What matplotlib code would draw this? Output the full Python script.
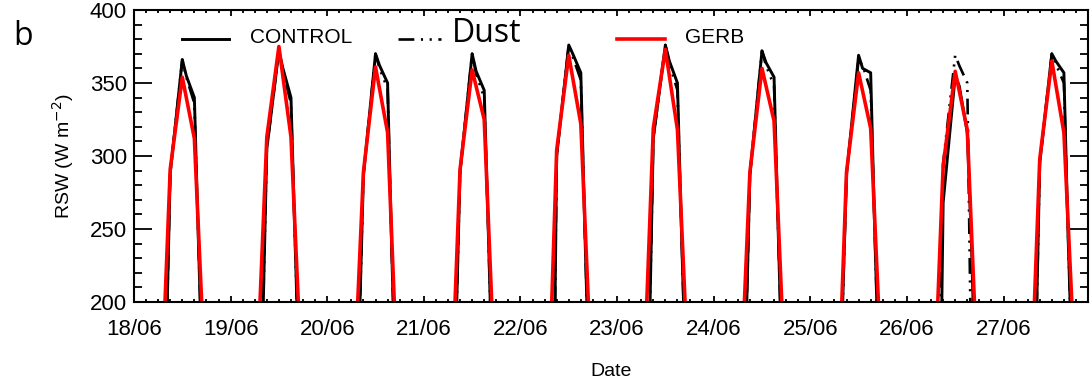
import numpy as np
import matplotlib
matplotlib.use("Agg")
import matplotlib.pyplot as plt
from matplotlib.lines import Line2D
from matplotlib.ticker import MultipleLocator

# dates (tick labels), one per day starting 18/06 00 UTC
dates = ["18/06", "19/06", "20/06", "21/06", "22/06",
         "23/06", "24/06", "25/06", "26/06", "27/06"]

# GERB observations, W m-2, at these UTC hours each day
gerb_hours = [6, 9, 12, 15, 18]
gerb = [
    [80, 291, 354, 312, 127],
    [113, 313, 375, 313, 127],
    [101, 289, 361, 316, 107],
    [72, 291, 359, 325, 124],
    [48, 304, 369, 322, 126],
    [98, 319, 373, 318, 131],
    [94, 289, 360, 324, 130],
    [61, 289, 357, 319, 133],
    [82, 293, 358, 318, 118],
    [75, 298, 365, 316, 139],
]

# model runs, W m-2, at these UTC hours each day
model_hours = [8, 9, 12, 13, 15, 16, 17]
control = [
    [167, 288, 366, 355, 340, 242, 150],
    [185, 305, 372, 360, 340, 243, 150],
    [185, 287, 370, 362, 350, 238, 140],
    [181, 289, 370, 358, 345, 250, 150],
    [50, 300, 376, 370, 357, 249, 150],
    [172, 312, 376, 365, 350, 248, 155],
    [175, 287, 372, 364, 354, 251, 155],
    [195, 287, 369, 360, 357, 249, 155],
    [58, 268, 355, 348, 316, 243, 145],
    [164, 295, 370, 365, 357, 249, 158],
]
dust = [
    [167, 288, 366, 354, 336, 242, 150],
    [185, 305, 372, 358, 336, 243, 150],
    [185, 287, 370, 360, 346, 238, 140],
    [181, 289, 370, 356, 340, 250, 150],
    [50, 300, 376, 368, 352, 249, 150],
    [172, 312, 376, 363, 345, 248, 155],
    [175, 287, 372, 362, 348, 251, 155],
    [195, 287, 366, 362, 345, 249, 155],
    [150, 295, 369, 362, 350, 150, 100],
    [164, 295, 370, 363, 350, 249, 158],
]


def series(hours, daily):
    t = np.concatenate([d + np.array(hours) / 24.0 for d in range(len(daily))])
    v = np.concatenate([np.array(row, dtype=float) for row in daily])
    return t, v


def make_plot():
    plt.rcParams["font.family"] = ["Liberation Sans", "DejaVu Sans"]
    fig = plt.figure(figsize=(10.91, 3.81), dpi=100)
    ax = fig.add_axes([0.1228, 0.2073, 0.8745, 0.7665])

    dashdotdot = (0, (6, 2.5, 0.8, 2.5, 0.8, 2.5))
    t, v = series(model_hours, dust)
    ax.plot(t, v, color="black", lw=1.9, linestyle=dashdotdot)
    t, v = series(model_hours, control)
    ax.plot(t, v, color="black", lw=2.1)
    t, v = series(gerb_hours, gerb)
    ax.plot(t, v, color="red", lw=2.6)

    ax.set_xlim(0, 9.875)
    ax.set_ylim(200, 400)
    ax.set_xticks(range(len(dates)))
    ax.set_xticklabels(dates)
    ax.xaxis.set_minor_locator(MultipleLocator(0.125))
    ax.yaxis.set_major_locator(MultipleLocator(50))
    ax.yaxis.set_minor_locator(MultipleLocator(10))
    ax.tick_params(axis="both", which="both", direction="in",
                   top=True, right=True, width=1.3, labelsize=16)
    ax.tick_params(axis="y", which="major", length=13, pad=5)
    ax.tick_params(axis="y", which="minor", length=6)
    ax.tick_params(axis="x", which="major", length=4, pad=12)
    ax.tick_params(axis="x", which="minor", length=2.2)
    for s in ax.spines.values():
        s.set_linewidth(1.5)

    ax.set_xlabel("Date", fontsize=14, labelpad=17)
    ax.set_ylabel("RSW (W m$^{-2}$)", fontsize=14, labelpad=10)

    # legend drawn by hand, as in the original figure
    tr = ax.transAxes
    ax.add_line(Line2D([0.05, 0.10], [0.902, 0.902], transform=tr, color="black", lw=2.1))
    ax.text(0.122, 0.905, "CONTROL", transform=tr, fontsize=15, va="center")
    ax.add_line(Line2D([0.277, 0.322], [0.902, 0.902], transform=tr, color="black", lw=1.9,
                       linestyle=dashdotdot))
    ax.text(0.333, 0.92, "Dust", transform=tr, fontsize=23, va="center", family="Open Sans")
    ax.add_line(Line2D([0.506, 0.557], [0.902, 0.902], transform=tr, color="red", lw=2.6))
    ax.text(0.578, 0.905, "GERB", transform=tr, fontsize=15, va="center")

    fig.text(0.012, 0.905, "b", fontsize=23, family="Open Sans", va="center")
    return fig, ax


def main() -> None:
    fig, _ = make_plot()
    fig.savefig("out.png", dpi=100)


if __name__ == "__main__":
    main()
